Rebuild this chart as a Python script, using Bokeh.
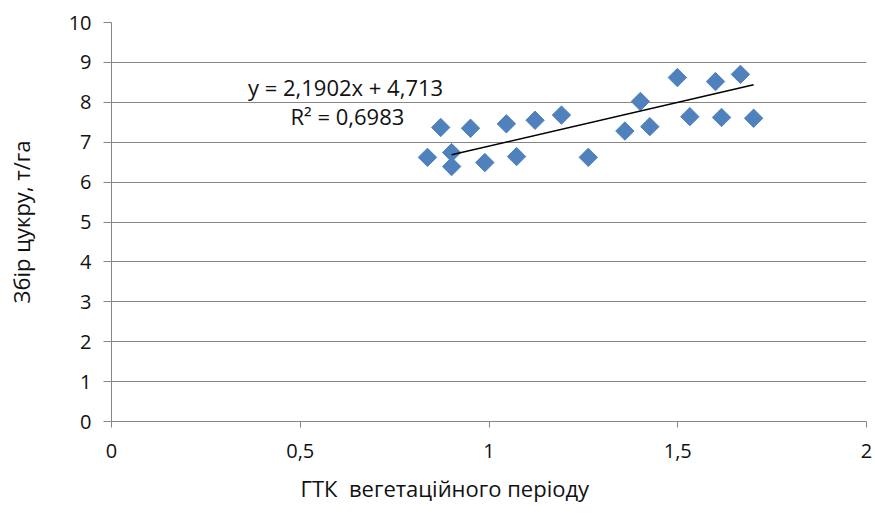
from bokeh.plotting import figure
from bokeh.models import Label, FixedTicker, Range1d, Title
from bokeh.embed import file_html
from bokeh.resources import INLINE

# Data
htk = [0.837, 0.872, 0.901, 0.901, 0.951, 0.989, 1.046, 1.073, 1.122, 1.192,
       1.263, 1.360, 1.401, 1.426, 1.499, 1.532, 1.600, 1.616, 1.666, 1.701]
sugar = [6.62, 7.37, 6.74, 6.39, 7.35, 6.49, 7.46, 6.64, 7.55, 7.68,
         6.62, 7.28, 8.02, 7.39, 8.62, 7.64, 8.52, 7.62, 8.70, 7.60]
slope = 2.1902
intercept = 4.713
trend_x = [0.901, 1.701]
x_ticks = [0, 0.5, 1, 1.5, 2]
x_tick_labels = ["0", "0,5", "1", "1,5", "2"]
y_ticks = list(range(0, 11))

FONT = "Open Sans"
GRAY = "#868686"
TXT = "#111111"

p = figure(width=872, height=512, output_backend="svg", toolbar_location=None,
           x_range=Range1d(0, 2), y_range=Range1d(0, 10),
           min_border_left=111, min_border_right=6, min_border_top=22, min_border_bottom=90)
p.outline_line_color = None
p.background_fill_color = "white"
p.border_fill_color = "white"

p.xgrid.visible = False
p.ygrid.grid_line_color = GRAY
p.ygrid.grid_line_width = 1
p.ygrid.ticker = FixedTicker(ticks=y_ticks)

p.xaxis.ticker = FixedTicker(ticks=x_ticks)
p.xaxis.major_label_overrides = {t: l for t, l in zip(x_ticks, x_tick_labels)}
p.yaxis.ticker = FixedTicker(ticks=y_ticks)

for ax in (p.xaxis[0], p.yaxis[0]):
    ax.axis_line_color = GRAY
    ax.axis_line_width = 1
    ax.major_tick_line_color = GRAY
    ax.major_tick_in = 0
    ax.minor_tick_line_color = None
    ax.major_label_text_font = FONT
    ax.major_label_text_font_size = "20px"
    ax.major_label_text_color = TXT

p.xaxis.major_tick_out = 6
p.xaxis.major_label_standoff = 16
p.yaxis.major_tick_out = 8
p.yaxis.major_label_standoff = 12

p.yaxis.axis_label = "Збір цукру, т/га"
p.yaxis.axis_label_text_font = FONT
p.yaxis.axis_label_text_font_size = "22px"
p.yaxis.axis_label_text_font_style = "normal"
p.yaxis.axis_label_text_color = TXT
p.yaxis.axis_label_standoff = 30

xt = Title(text="ГТК\u00a0 вегетаційного періоду", align="left", offset=189,
           text_font=FONT, text_font_size="22px", text_font_style="normal",
           text_color=TXT, standoff=20)
p.add_layout(xt, "below")

p.scatter(htk, sugar, marker="square", size=13, angle=0.785398,
          fill_color="#4F81BD", line_color="#4F81BD")

trend_y = [slope * x + intercept for x in trend_x]
p.line(trend_x, trend_y, line_color="black", line_width=1.5)

eq = Label(x=0.620, y=8.375, text="y = 2,1902x + 4,713", text_align="center",
           text_baseline="middle", text_font=FONT, text_font_size="22px",
           text_color=TXT)
r2 = Label(x=0.625, y=7.65, text="R² = 0,6983", text_align="center",
           text_baseline="middle", text_font=FONT, text_font_size="22px",
           text_color=TXT)
p.add_layout(eq)
p.add_layout(r2)

open("out.html", "w").write(file_html(p, INLINE))
